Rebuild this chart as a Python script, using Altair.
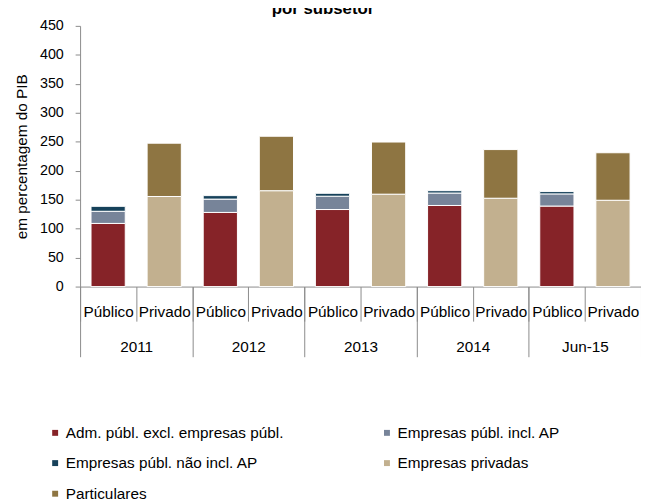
import altair as alt
import pandas as pd

title_text = "por subsetor"
y_title = "em percentagem do PIB"
years = ["2011", "2012", "2013", "2014", "Jun-15"]
sectors = ["Público", "Privado"]
series = [
    "Adm. públ. excl. empresas públ.",
    "Empresas públ. incl. AP",
    "Empresas públ. não incl. AP",
    "Empresas privadas",
    "Particulares",
]
colors = ["#862328", "#778499", "#16415A", "#C2B08F", "#8E7542"]

adm = [109, 128, 133, 140, 139]
emp_ap = [21, 23, 23, 21.5, 21]
emp_nao_ap = [8.5, 6, 5, 4, 4]
emp_priv = [155.5, 165.5, 159.5, 152.5, 149]
particulares = [92, 94, 90, 84, 82]

cats = [f"{y}|{s}" for y in years for s in sectors]

rows = []
for i, y in enumerate(years):
    for j, (vals, sec) in enumerate([(adm, "Público"), (emp_ap, "Público"), (emp_nao_ap, "Público"),
                                      (emp_priv, "Privado"), (particulares, "Privado")]):
        rows.append({"cat": f"{y}|{sec}", "year": y, "series": series[j], "ord": j, "value": vals[i]})
df = pd.DataFrame(rows)

FONT = "Liberation Sans"
GRAY = "#8a8a8a"
W, H = 568, 264

bars = alt.Chart(df).mark_bar(stroke="white", strokeWidth=1).encode(
    x=alt.X("cat:N", sort=cats, axis=None,
            scale=alt.Scale(paddingInner=0.39, paddingOuter=0.195)),
    y=alt.Y("value:Q", stack="zero",
            scale=alt.Scale(domain=[0, 450], nice=False),
            axis=alt.Axis(values=list(range(0, 451, 50)), title=y_title, grid=False,
                          domainColor=GRAY, tickColor=GRAY, tickSize=5,
                          labelFontSize=14.5, labelColor="#000000", labelPadding=12,
                          titleFontSize=15.5, titleFontWeight="normal", titleColor="#000000",
                          titleX=-59, titleY=H / 2, titleBaseline="middle", titleAngle=-90)),
    color=alt.Color("series:N", scale=alt.Scale(domain=series, range=colors),
                    legend=alt.Legend(orient="none", legendX=-33, legendY=404, columns=2,
                                      direction="horizontal",
                                      title=None, symbolType="square", symbolSize=36,
                                      symbolStrokeWidth=0, labelFontSize=15.5,
                                      labelColor="#000000", labelOffset=3,
                                      columnPadding=96, rowPadding=14, padding=0,
                                      labelLimit=400)),
    order=alt.Order("ord:Q"),
)

cat_df = pd.DataFrame({"cat": cats})
cat_axis = alt.Chart(cat_df).mark_point(opacity=0).encode(
    x=alt.X("cat:N", sort=cats,
            scale=alt.Scale(paddingInner=0, paddingOuter=0),
            axis=alt.Axis(orient="bottom", tickBand="extent", tickSize=35, title=None,
                          domainColor=GRAY, tickColor=GRAY, labelAngle=0,
                          labelExpr="split(datum.label, '|')[1]",
                          labelFontSize=15.5, labelColor="#000000", labelPadding=-17,
                          labelOverlap=False)),
    y=alt.value(0),
)

year_df = pd.DataFrame({"year": years})
year_axis = alt.Chart(year_df).mark_point(opacity=0).encode(
    x=alt.X("year:N", sort=years,
            scale=alt.Scale(paddingInner=0, paddingOuter=0),
            axis=alt.Axis(orient="bottom", tickBand="extent", tickSize=71, title=None,
                          domain=False, tickColor=GRAY, labelAngle=0,
                          labelFontSize=15.5, labelColor="#000000", labelPadding=-17,
                          labelOverlap=False)),
    y=alt.value(0),
)

title = alt.Chart(pd.DataFrame({"t": [title_text]})).mark_text(
    font=FONT, fontSize=17, fontWeight="bold", baseline="alphabetic", align="center",
    color="#000000",
).encode(text="t:N", x=alt.value(246), y=alt.value(-12))

chart = alt.layer(bars, cat_axis, year_axis, title).resolve_scale(x="independent").properties(
    width=W, height=H,
    autosize=alt.AutoSizeParams(type="none"),
    padding={"left": 73, "top": 15, "right": 0, "bottom": 212},
).configure(font=FONT).configure_view(stroke=None).configure_axis(labelFont=FONT, titleFont=FONT)

chart.save("out.html", embed_options={"renderer": "svg", "actions": False})
